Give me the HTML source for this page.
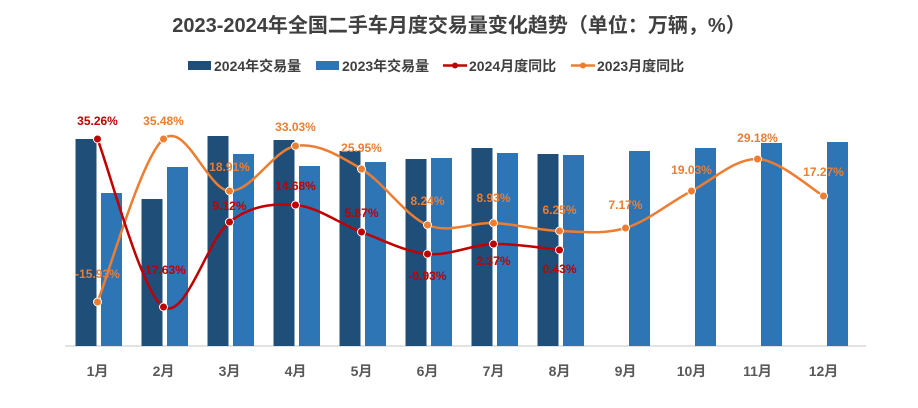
<!DOCTYPE html>
<html><head><meta charset="utf-8"><style>
body{margin:0;background:#fff;}
svg text{font-family:"Liberation Sans","Noto Sans CJK SC",sans-serif;font-weight:bold;}
</style></head><body>
<svg id="s" width="918" height="403" xmlns="http://www.w3.org/2000/svg">
<text x="459" y="32" text-anchor="middle" font-size="20" fill="#404040">2023-2024年全国二手车月度交易量变化趋势（单位：万辆，%）</text>
<rect x="188" y="61" width="23" height="9" fill="#1f4e79"/>
<text x="214" y="71" font-size="14" fill="#404040">2024年交易量</text>
<rect x="316" y="61" width="23" height="9" fill="#2e75b6"/>
<text x="342" y="71" font-size="14" fill="#404040">2023年交易量</text>
<line x1="443" y1="65.5" x2="467" y2="65.5" stroke="#c00000" stroke-width="2.5"/><circle cx="455" cy="65.5" r="3" fill="#c00000"/>
<text x="469" y="71" font-size="14" fill="#404040">2024月度同比</text>
<line x1="571" y1="65.5" x2="595" y2="65.5" stroke="#ed7d31" stroke-width="2.5"/><circle cx="583" cy="65.5" r="3" fill="#ed7d31"/>
<text x="597" y="71" font-size="14" fill="#404040">2023月度同比</text>
<line x1="65" y1="346" x2="866" y2="346" stroke="#d9d9d9" stroke-width="1.5"/>
<g id="g"></g>
</svg>
<script>
var g=document.getElementById('g'),h='';
var dk=[139,199,136,140,151,159,148,154],lt=[193,167,154,166,162,158,153,155,151,148,143,142];
var red=[139,307,222,205,232,254,244,250],org=[302,139,191,146,169,225,223,231,228,191,159,196];
var rl=["35.26%","-17.63%","9.12%","14.68%","5.87%","-0.93%","2.37%","0.43%"];
var ol=["-15.93%","35.48%","18.91%","33.03%","25.95%","8.24%","8.93%","6.25%","7.17%","19.03%","29.18%","17.27%"];
var rly=[125,274,210,190,217,280,265,273],oly=[278,125,171,131,152,205,202,214,209,174,142,176];
function cx(i){return 97.5+66*i;}
for(var i=0;i<12;i++){var c=cx(i);
 if(i<8)h+='<rect x="'+(c-22)+'" y="'+dk[i]+'" width="21" height="'+(346-dk[i])+'" fill="#1f4e79"/>';
 h+='<rect x="'+(c+3.5)+'" y="'+lt[i]+'" width="21" height="'+(346-lt[i])+'" fill="#2e75b6"/>';
 h+='<text x="'+c+'" y="376" text-anchor="middle" font-size="14" fill="#595959">'+(i+1)+'月</text>';}
function path(v){var p=v.map(function(y,i){return [cx(i),y]});var d='M'+p[0];
 for(var i=0;i<p.length-1;i++){var a=p[i-1]||p[i],b=p[i],c=p[i+1],e=p[i+2]||c;
 d+='C'+(b[0]+(c[0]-a[0])/6)+','+(b[1]+(c[1]-a[1])/6)+' '+(c[0]-(e[0]-b[0])/6)+','+(c[1]-(e[1]-b[1])/6)+' '+c;}return d;}
h+='<path d="'+path(org)+'" fill="none" stroke="#ed7d31" stroke-width="2.5"/>';
h+='<path d="'+path(red)+'" fill="none" stroke="#c00000" stroke-width="2.5"/>';
org.forEach(function(y,i){h+='<circle cx="'+cx(i)+'" cy="'+y+'" r="4" fill="#ed7d31" stroke="#fff" stroke-width="1"/>';
 h+='<text x="'+cx(i)+'" y="'+oly[i]+'" text-anchor="middle" font-size="12" fill="#ed7d31">'+ol[i]+'</text>';});
red.forEach(function(y,i){h+='<circle cx="'+cx(i)+'" cy="'+y+'" r="4" fill="#c00000" stroke="#fff" stroke-width="1"/>';
 h+='<text x="'+cx(i)+'" y="'+rly[i]+'" text-anchor="middle" font-size="12" fill="#c00000">'+rl[i]+'</text>';});
g.innerHTML=h;
</script>
</body></html>
